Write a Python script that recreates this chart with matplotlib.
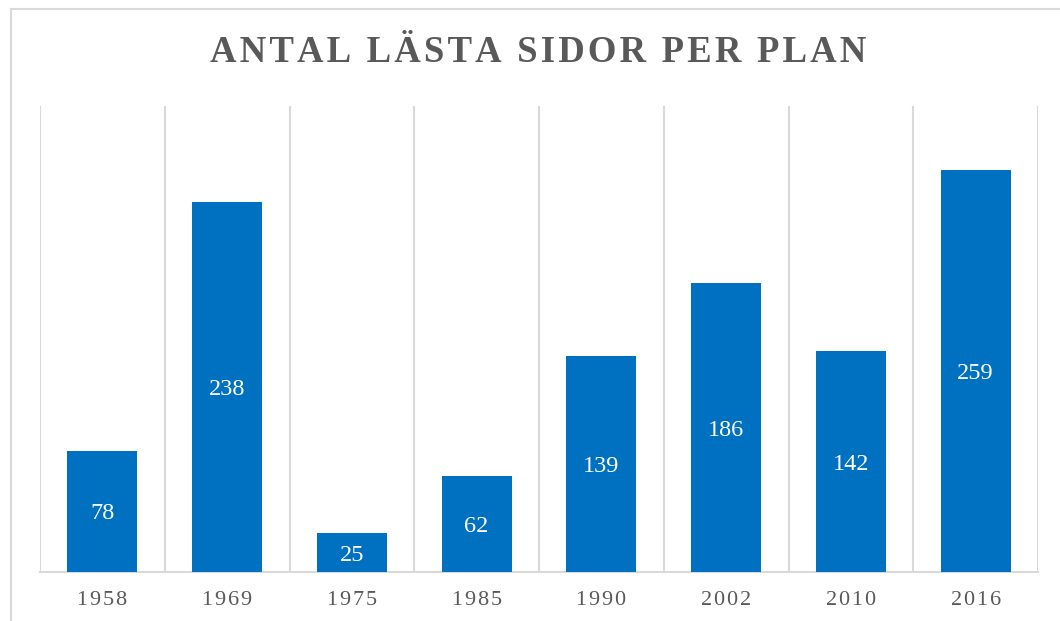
import matplotlib

matplotlib.use("Agg")
import matplotlib.pyplot as plt
from matplotlib.lines import Line2D

# Data
years = ["1958", "1969", "1975", "1985", "1990", "2002", "2010", "2016"]
pages = [78, 238, 25, 62, 139, 186, 142, 259]
title = "ANTAL LÄSTA SIDOR PER PLAN"

BLUE = "#0070C0"
GREY = "#595959"
GRID = "#D9D9D9"
SERIF = ["Liberation Serif", "DejaVu Serif"]


def spread(s, gap="\u200a"):
    # widen the letter spacing like the original
    return gap.join(s)


fig = plt.figure(figsize=(10.6, 6.21), dpi=100)
ax = fig.add_axes([40 / 1060, 49 / 621, 998 / 1060, 466 / 621])

x = range(len(years))
bars = ax.bar(x, pages, width=0.56, color=BLUE, zorder=3)
for b, v in zip(bars, pages):
    ax.text(b.get_x() + b.get_width() / 2, v / 2, str(v), ha="center",
            va="center_baseline", color="white", fontsize=17.5, family=SERIF,
            zorder=4)

ax.set_xlim(-0.5, len(years) - 0.5)
ax.set_ylim(0, 300)
ax.set_yticks([])
ax.set_xticks(list(x))
ax.set_xticklabels([spread(y) for y in years], family=SERIF, fontsize=16,
                   color=GREY)
ax.tick_params(axis="x", length=0, pad=14)
# vertical separators between categories
for b in [i - 0.5 for i in range(len(years) + 1)]:
    ax.axvline(b, color=GRID, lw=1.5, zorder=1)
for s in ("top", "left", "right"):
    ax.spines[s].set_visible(False)
ax.spines["bottom"].set_color(GRID)
ax.spines["bottom"].set_linewidth(1.5)

fig.text(538 / 1060, 1 - 52 / 621, spread(title), ha="center",
         va="center", fontsize=26.5, fontweight="bold", color=GREY,
         family=SERIF)

# outer chart frame, cut off on the right and bottom
fig.add_artist(Line2D([11 / 1060, 1], [1 - 9 / 621, 1 - 9 / 621],
                      color=GRID, lw=1.5, transform=fig.transFigure))
fig.add_artist(Line2D([11 / 1060, 11 / 1060], [0, 1 - 9 / 621],
                      color=GRID, lw=1.5, transform=fig.transFigure))

fig.savefig("out.png", dpi=100)
